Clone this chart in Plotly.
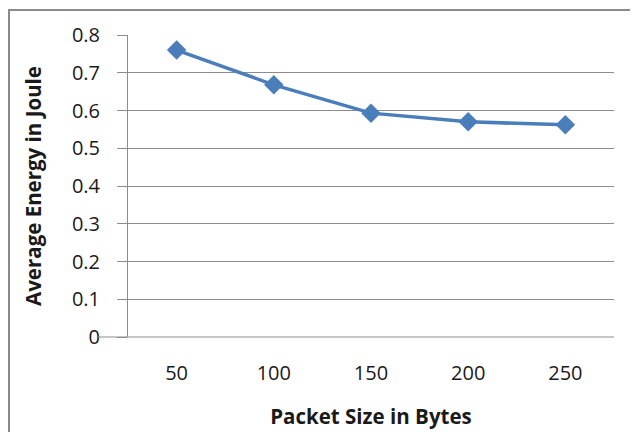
import plotly.graph_objects as go

packet_sizes = ["50", "100", "150", "200", "250"]
avg_energy = [0.760, 0.668, 0.593, 0.570, 0.562]
y_ticks = [0, 0.1, 0.2, 0.3, 0.4, 0.5, 0.6, 0.7, 0.8]
y_tick_labels = ["0", "0.1", "0.2", "0.3", "0.4", "0.5", "0.6", "0.7", "0.8"]

OFF = 8  # page body margin
L, R, T, B = 128 - OFF, 614 - OFF, 35 - OFF, 337 - OFF
W, H = 638 - OFF, 432 - OFF
pw, ph = R - L, B - T

def px(x):
    return (x - OFF - L) / pw

def py(y):
    return (B - (y - OFF)) / ph

fig = go.Figure()
fig.add_trace(go.Scatter(
    x=packet_sizes, y=avg_energy, mode="lines+markers",
    line=dict(color="#4a7ebb", width=3.5),
    marker=dict(symbol="diamond", size=15, color="#4a7ebb"),
    showlegend=False,
))

font_family = "Open Sans, Liberation Sans, sans-serif"
fig.update_layout(
    width=W, height=H,
    margin=dict(l=L, r=W - R, t=T, b=H - B),
    paper_bgcolor="white", plot_bgcolor="white",
    font=dict(family=font_family, size=20, color="#1a1a1a"),
    xaxis=dict(
        type="category", showgrid=False, ticks="", showline=False,
        zeroline=False, ticklabelstandoff=22, tickfont=dict(size=20),
        range=[-0.5, 4.5], automargin=False,
        title=dict(text="<b>Packet Size in Bytes</b>", standoff=24,
                   font=dict(size=20.5)),
    ),
    yaxis=dict(
        range=[0, 0.8], tickvals=y_ticks, ticktext=y_tick_labels,
        showgrid=True, gridcolor="#8c8c8c", gridwidth=1,
        showline=True, linecolor="#8c8c8c", linewidth=1,
        ticks="outside", ticklen=10, tickcolor="#8c8c8c",
        ticklabelstandoff=13, automargin=False,
        zeroline=False, tickfont=dict(size=20),
        title=dict(text="<b>Average Energy in Joule</b>", standoff=24,
                   font=dict(size=20.5)),
    ),
    shapes=[
        dict(type="rect", xref="paper", yref="paper",
             x0=px(9), x1=px(660), y0=py(450), y1=py(10),
             line=dict(color="#8a8a8a", width=2), layer="below"),
        dict(type="line", xref="paper", yref="paper",
             x0=px(98), x1=1, y0=0, y1=0,
             line=dict(color="#8c8c8c", width=1)),
    ],
)

fig.write_html("out.html")
